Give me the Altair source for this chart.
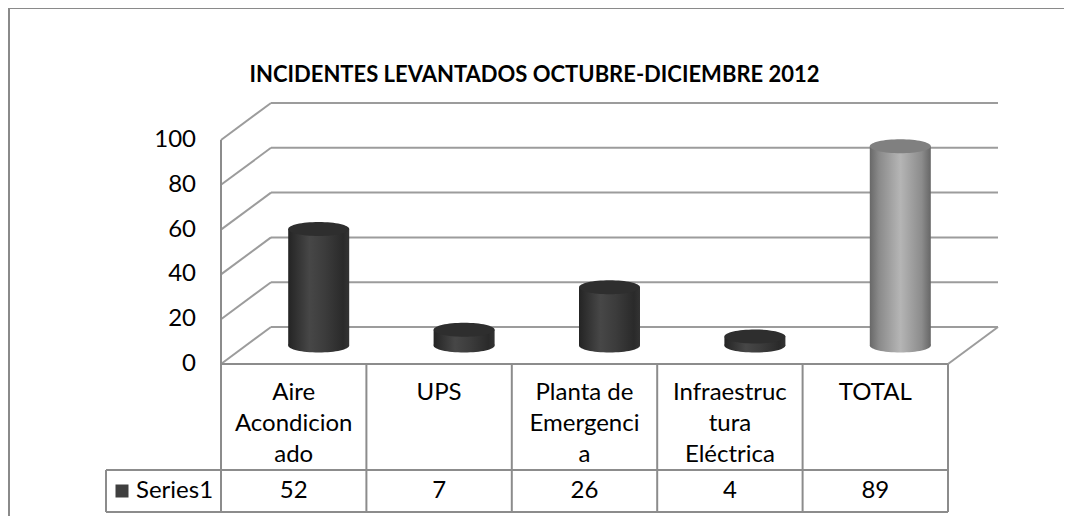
import altair as alt
import pandas as pd

# ---------------- data ----------------
CATEGORIES = ["Aire Acondicionado", "UPS", "Planta de Emergencia",
              "Infraestructura Eléctrica", "TOTAL"]
CATEGORY_LINES = ["Aire\nAcondicion\nado", "UPS", "Planta de\nEmergenci\na",
                  "Infraestruc\ntura\nEléctrica", "TOTAL"]
VALUES = [52, 7, 26, 4, 89]
SERIES = "Series1"
TITLE = "INCIDENTES LEVANTADOS OCTUBRE-DICIEMBRE 2012"
TICKS = [0, 20, 40, 60, 80, 100]

# ---------------- layout (pixels) ----------------
W, H = 727, 224
PAD = {"left": 213, "top": 132, "right": 116, "bottom": 152}
N = len(CATEGORIES)
YMAX = TICKS[-1]
PXX = W / N
PXY = H / YMAX


def xs(px):
    return px / PXX


def ys(px):
    return px / PXY


DX = xs(50)          # depth offset (x)
DY = ys(37)          # depth offset (y)
CYL_W = xs(61)
ROW1 = -ys(106)      # bottom of category row
ROW2 = -ys(148)      # bottom of value row
LEG_L = -xs(115)     # left of legend cell
FONT = "Lato"

XS = alt.Scale(domain=[0, N], nice=False, zero=False)
YS = alt.Scale(domain=[0, YMAX], nice=False, zero=False)


def enc(**kw):
    out = {}
    for k, v in kw.items():
        if k == "x":
            out[k] = alt.X(v, type="quantitative", scale=XS, axis=None)
        elif k == "x2":
            out[k] = alt.X2(v)
        elif k == "y":
            out[k] = alt.Y(v, type="quantitative", scale=YS, axis=None)
        elif k == "y2":
            out[k] = alt.Y2(v)
        else:
            out[k] = v
    return out


# ---------------- grid (walls) ----------------
grid_rows = []
for t in TICKS:
    grid_rows.append({"x": DX, "y": t + DY, "x2": N + DX, "y2": t + DY})  # back wall
    grid_rows.append({"x": 0, "y": t, "x2": DX, "y2": t + DY})            # side wall
grid_rows.append({"x": N, "y": 0, "x2": N + DX, "y2": DY})                 # floor right edge
grid_df = pd.DataFrame(grid_rows)

grid = alt.Chart(grid_df).mark_rule(color="#9c9c9c", strokeWidth=2).encode(
    **enc(x="x", y="y", x2="x2", y2="y2"))

# y axis labels
axis_df = pd.DataFrame({"v": TICKS, "lab": [str(t) for t in TICKS]})
axis_df["xl"] = -xs(25)
axis_labels = alt.Chart(axis_df).mark_text(
    font=FONT, fontSize=24, baseline="middle", align="right", color="black").encode(
    text="lab:N", **enc(x="xl", y="v"))

# ---------------- cylinders ----------------
cyl = pd.DataFrame({
    "cat": CATEGORIES,
    "value": VALUES,
    "idx": list(range(N)),
})
cyl["cx"] = cyl["idx"] + 0.5 + DX / 2
cyl["xl"] = cyl["cx"] - CYL_W / 2
cyl["xr"] = cyl["cx"] + CYL_W / 2
cyl["yb"] = DY / 2
cyl["yt"] = cyl["value"] + DY / 2

ELLIPSE = "M -1 0 A 1 0.23 0 1 1 1 0 A 1 0.23 0 1 1 -1 0 Z"
SIZE = (CYL_W * PXX) ** 2


def grad(stops):
    return alt.Gradient(gradient="linear", x1=0, x2=1, y1=0, y2=0,
                        stops=[alt.GradientStop(color=c, offset=o) for o, c in stops])


DARK = grad([(0, "#242424"), (0.35, "#474747"), (0.6, "#3c3c3c"), (0.9, "#2a2a2a"), (1, "#333333")])
LIGHT = grad([(0, "#686868"), (0.15, "#8a8a8a"), (0.5, "#b5b5b5"), (0.85, "#8c8c8c"), (1, "#666666")])


def cylinders(filt, side, top):
    base = alt.Chart(cyl).transform_filter(filt)
    bottom = base.mark_point(shape=ELLIPSE, size=SIZE, filled=True, fill=side,
                             strokeWidth=0, opacity=1).encode(**enc(x="cx", y="yb"))
    body = base.mark_rect(fill=side).encode(**enc(x="xl", x2="xr", y="yb", y2="yt"))
    cap = base.mark_point(shape=ELLIPSE, size=SIZE, filled=True, fill=top,
                          strokeWidth=0, opacity=1).encode(**enc(x="cx", y="yt"))
    return [bottom, body, cap]


dark_layers = cylinders(alt.datum.cat != "TOTAL", DARK, "#2e2e2e")
light_layers = cylinders(alt.datum.cat == "TOTAL", LIGHT, "#808080")

# ---------------- data table ----------------
tbl_rows = []
for i in range(N + 1):
    tbl_rows.append({"x": i, "y": 0 if i > 0 else YMAX, "x2": i, "y2": ROW2})
tbl_rows.append({"x": 0, "y": 0, "x2": N, "y2": 0})
tbl_rows.append({"x": LEG_L, "y": ROW1, "x2": N, "y2": ROW1})
tbl_rows.append({"x": LEG_L, "y": ROW2, "x2": N, "y2": ROW2})
tbl_rows.append({"x": LEG_L, "y": ROW1, "x2": LEG_L, "y2": ROW2})
tbl_df = pd.DataFrame(tbl_rows)
table_lines = alt.Chart(tbl_df).mark_rule(color="#8c8c8c", strokeWidth=2).encode(
    **enc(x="x", y="y", x2="x2", y2="y2"))

# outer chart border (top & left)
border_df = pd.DataFrame([
    {"x": -xs(212), "y": ys(356), "x2": xs(843), "y2": ys(356)},
    {"x": -xs(212), "y": ys(356), "x2": -xs(212), "y2": -ys(152)},
])
border = alt.Chart(border_df).mark_rule(color="#8a8a8a", strokeWidth=2).encode(
    **enc(x="x", y="y", x2="x2", y2="y2"))

lab_df = pd.DataFrame({"lab": CATEGORY_LINES, "val": [str(v) for v in VALUES],
                       "xc": [i + 0.5 for i in range(N)]})
lab_df["ylab"] = -ys(36)
lab_df["yval"] = -ys(127)
cat_text = alt.Chart(lab_df).mark_text(
    font=FONT, fontSize=24, lineBreak="\n", lineHeight=31, baseline="alphabetic",
    align="center", color="black").encode(text="lab:N", **enc(x="xc", y="ylab"))
val_text = alt.Chart(lab_df).mark_text(
    font=FONT, fontSize=24, baseline="middle", align="center", color="black").encode(
    text="val:N", **enc(x="xc", y="yval"))

leg_df = pd.DataFrame({"s": [SERIES], "xs": [LEG_L + xs(16)], "xt": [LEG_L + xs(30)],
                       "y": [-ys(127)]})
leg_sq = alt.Chart(leg_df).mark_point(shape="square", size=169, filled=True,
                                      color="#3f3f3f", opacity=1).encode(**enc(x="xs", y="y"))
leg_tx = alt.Chart(leg_df).mark_text(font=FONT, fontSize=24, baseline="middle",
                                     align="left", color="black").encode(
    text="s:N", **enc(x="xt", y="y"))

title_df = pd.DataFrame({"t": [TITLE], "x": [xs(313.5)], "y": [ys(289)]})
title = alt.Chart(title_df).mark_text(font=FONT, fontSize=22, fontWeight="bold",
                                      baseline="middle", align="center",
                                      color="black").encode(text="t:N", **enc(x="x", y="y"))

chart = alt.layer(
    border, grid, *dark_layers, *light_layers, table_lines, axis_labels,
    cat_text, val_text, leg_sq, leg_tx, title
).properties(
    width=W, height=H,
    autosize=alt.AutoSizeParams(type="none"),
    padding=PAD,
    background="white",
).configure_view(stroke=None, strokeWidth=0)

chart.save("out.html", embed_options={"renderer": "svg", "actions": False})
